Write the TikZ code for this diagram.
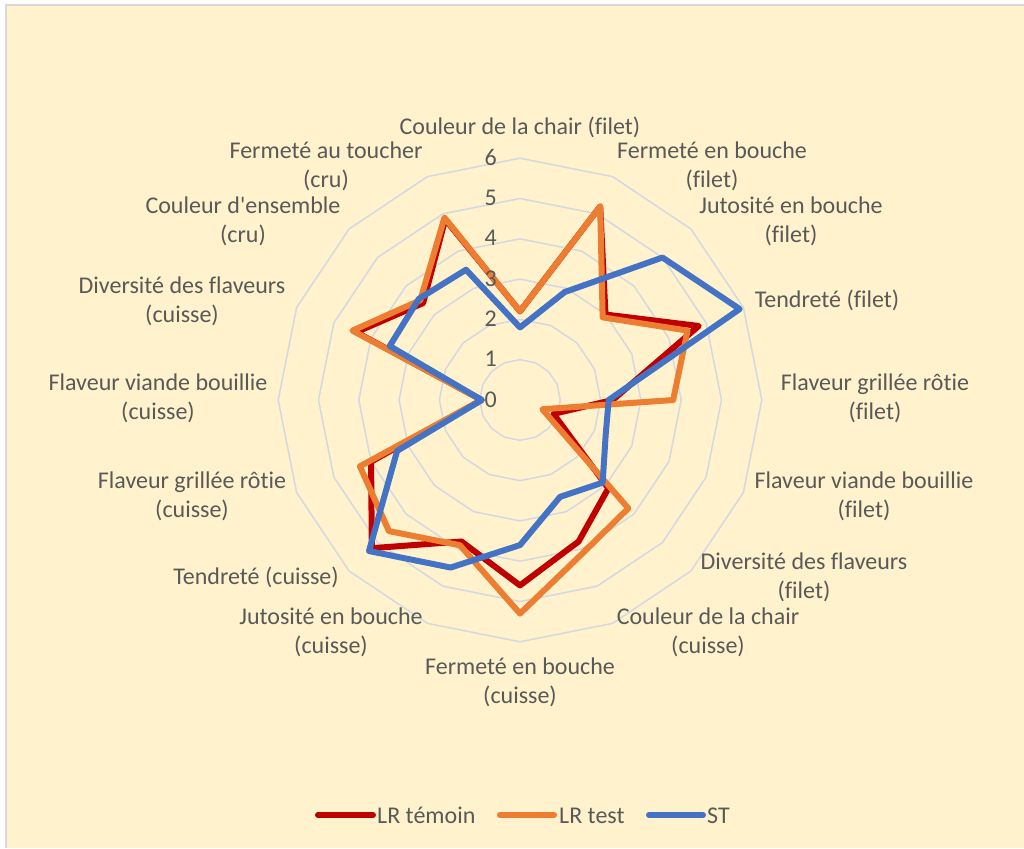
\documentclass[tikz,border=0pt]{standalone}
\usepackage{fontspec}
\setmainfont{Carlito}
\newfontfamily\lblfont{Carlito}[Ligatures=NoCommon]
\definecolor{bgyellow}{HTML}{FFF2CC}
\definecolor{framegray}{HTML}{D9D9D9}
\definecolor{gridc}{HTML}{D3D8E2}
\definecolor{txtgray}{HTML}{595959}
\definecolor{lrtemoin}{HTML}{C00000}
\definecolor{lrtest}{HTML}{ED7D31}
\definecolor{stblue}{HTML}{4472C4}
\begin{document}
\begin{tikzpicture}[x=1pt,y=-1pt,
  lbl/.style={font=\lblfont\fontsize{24}{29}\selectfont, text=txtgray, align=center, anchor=base, inner sep=0pt},
  scalelbl/.style={font=\lblfont\fontsize{24}{29}\selectfont, text=txtgray, anchor=base east, inner sep=0pt},
  leglbl/.style={font=\lblfont\fontsize{24}{29}\selectfont, text=txtgray, anchor=base west, inner sep=0pt},
  ring/.style={draw=gridc, line width=1.5pt},
  serie/.style={line width=6pt, line join=round, line cap=round}]
\useasboundingbox (0,0) rectangle (1024,848);
\fill[white] (0,0) rectangle (1024,848);
\fill[bgyellow] (6,5) rectangle (1024,848);
\draw[framegray, line width=1.5pt] (6,848) -- (6,5) -- (1024,5);
\begin{scope}[shift={(520,400)}]
  \foreach \r in {1,...,6} {
    \draw[ring] ({-90}:{\r*40.3}) \foreach \i in {1,...,15} { -- ({\i*22.5-90}:{\r*40.3}) } -- cycle;
  }
  % LR temoin
  \draw[serie, draw=lrtemoin] ({-90}:{2.2*40.3}) \foreach \v [count=\i] in {5.2,3.0,4.8,2.3,0.9,3.1,3.8,4.6,3.8,5.2,4.0,0.95,4.4,3.4,4.85} { -- ({\i*22.5-90}:{\v*40.3}) } -- cycle;
  % LR test
  \draw[serie, draw=lrtest] ({-90}:{2.2*40.3}) \foreach \v [count=\i] in {5.2,2.9,4.5,3.8,0.6,3.8,4.1,5.3,3.9,4.6,4.3,0.95,4.5,3.5,4.9} { -- ({\i*22.5-90}:{\v*40.3}) } -- cycle;
  % ST
  \draw[serie, draw=stblue] ({-90}:{1.8*40.3}) \foreach \v [count=\i] in {2.9,5.0,5.9,2.2,2.3,2.9,2.6,3.6,4.5,5.3,3.3,0.95,3.5,3.55,3.5} { -- ({\i*22.5-90}:{\v*40.3}) } -- cycle;
\end{scope}
% scale labels
\foreach \k in {0,...,6} {
  \node[scalelbl] (s\k) at (497,{400-\k*40.3+7}) {\k};
}
% axis labels (anchor = baseline of last line)
\node[lbl] (a0) at (520,134) {Couleur de la chair (filet)};
\node[lbl] (a1) at (712,187) {Fermeté en bouche\\(filet)};
\node[lbl] (a2) at (791,242) {Jutosité en bouche\\(filet)};
\node[lbl] (a3) at (827,307) {Tendreté (filet)};
\node[lbl] (a4) at (875,419) {Flaveur grillée rôtie\\(filet)};
\node[lbl] (a5) at (864,517) {Flaveur viande bouillie\\(filet)};
\node[lbl] (a6) at (804,598) {Diversité des flaveurs\\(filet)};
\node[lbl] (a7) at (708,653) {Couleur de la chair\\(cuisse)};
\node[lbl] (a8) at (520,703) {Fermeté en bouche\\(cuisse)};
\node[lbl] (a9) at (331,653) {Jutosité en bouche\\(cuisse)};
\node[lbl] (a10) at (256,584) {Tendreté (cuisse)};
\node[lbl] (a11) at (192,517) {Flaveur grillée rôtie\\(cuisse)};
\node[lbl] (a12) at (158,419) {Flaveur viande bouillie\\(cuisse)};
\node[lbl] (a13) at (182,322) {Diversité des flaveurs\\(cuisse)};
\node[lbl] (a14) at (243,242) {Couleur d'ensemble\\(cru)};
\node[lbl] (a15) at (326,187) {Fermeté au toucher\\(cru)};
% legend
\coordinate (l1a) at (318,815); \coordinate (l1b) at (373,815);
\coordinate (l2a) at (500,815); \coordinate (l2b) at (554,815);
\coordinate (l3a) at (649,815); \coordinate (l3b) at (703,815);
\draw[serie, draw=lrtemoin] (l1a) -- (l1b);
\draw[serie, draw=lrtest] (l2a) -- (l2b);
\draw[serie, draw=stblue] (l3a) -- (l3b);
\node[leglbl] (t1) at (377,823) {LR témoin};
\node[leglbl] (t2) at (559,823) {LR test};
\node[leglbl] (t3) at (707,823) {ST};
\end{tikzpicture}
\end{document}
